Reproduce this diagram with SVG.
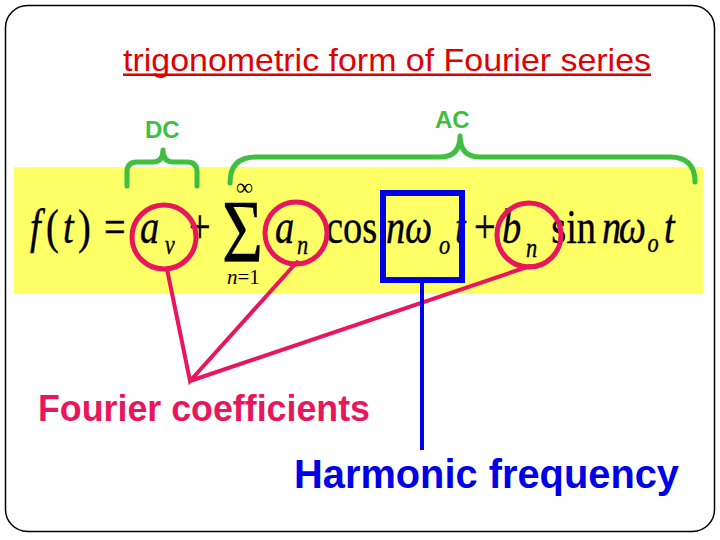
<svg xmlns="http://www.w3.org/2000/svg" width="720" height="540" viewBox="0 0 720 540">
<style>
.eq{font-family:"Liberation Serif","Times New Roman",serif;fill:#000;stroke:#000;stroke-width:0.4}
.m{font-size:48px}
.s{font-size:28px}
.it{font-style:italic}
.lab{font-family:"Liberation Sans",Arial,sans-serif}
.brace{fill:none;stroke:#3fbf3f;stroke-width:5;stroke-linejoin:round;stroke-linecap:round}
.ring{fill:none;stroke:#e8175d;stroke-width:5}
.pink{stroke:#e8175d;stroke-width:4;fill:none;stroke-linecap:round}
</style>
<rect x="5.5" y="5.5" width="709" height="526" rx="22" fill="#fff" stroke="#000" stroke-width="1.5"/>
<rect id="band" x="14" y="167" width="689" height="127" fill="#ffff66"/>

<g id="title">
<text class="lab" x="123" y="71" style="font-size:32px" fill="#e00000" textLength="528" lengthAdjust="spacingAndGlyphs">trigonometric form of Fourier series</text>
<rect x="123" y="73.5" width="528" height="2.5" fill="#e00000"/>
</g>

<g id="equation">
<g transform="scale(0.8 1)">
<text class="eq m it" x="37.5" y="243">f</text>
<text class="eq m" x="57.5" y="243">(</text>
<text class="eq m it" x="78.75" y="243">t</text>
<text class="eq m" x="97.5" y="243">)</text>
<text class="eq m" x="130" y="243">=</text>
<text class="eq m it" x="175" y="243">a</text>
<text class="eq s it" x="206" y="254">v</text>
<text class="eq m" x="236.25" y="243">+</text>
<text class="eq m it" x="343.75" y="243">a</text>
<text class="eq s it" x="371.25" y="254">n</text>
<text class="eq m" x="407.5" y="243">cos</text>
<text class="eq m it" x="482.5" y="243">n</text>
<text class="eq m it" x="506.25" y="243">ω</text>
<text class="eq s it" x="548.75" y="254">o</text>
<text class="eq m it" x="568.75" y="243">t</text>
<text class="eq m" x="592.5" y="243">+</text>
<text class="eq m it" x="627.5" y="243">b</text>
<text class="eq s it" x="657.5" y="257">n</text>
<text class="eq m" x="689" y="243">sin</text>
<text class="eq m it" x="752.5" y="243">n</text>
<text class="eq m it" x="773.5" y="243">ω</text>
<text class="eq s it" x="809.5" y="252">o</text>
<text class="eq m it" x="830" y="243">t</text>
</g>
<text class="eq" transform="translate(222 261) scale(0.8 1)" x="0" y="0" style="font-size:88px">Σ</text>
<text class="eq" x="236" y="195" style="font-size:24px;stroke-width:0">∞</text>
<text class="eq" x="227" y="284" style="font-size:21px;stroke-width:0"><tspan font-style="italic">n</tspan>=1</text>
</g>

<g id="dc">
<text class="lab" x="145" y="138" style="font-size:24px;font-weight:bold" fill="#3fbf3f">DC</text>
</g>
<g id="ac">
<text class="lab" x="435" y="128" style="font-size:24px;font-weight:bold" fill="#3fbf3f">AC</text>
</g>

<g id="av-circle"><circle class="ring" cx="164" cy="237" r="32"/></g>
<g id="an-circle"><circle class="ring" cx="296" cy="233" r="31"/></g>
<g id="bn-circle"><circle class="ring" cx="529" cy="235" r="32"/></g>
<g id="freq-box"><rect x="383" y="193" width="79" height="87" fill="none" stroke="#0000e6" stroke-width="6"/></g>

<g id="fourier-coefficients">
<text class="lab" x="38" y="421" style="font-size:36px;font-weight:bold" fill="#e8175d" textLength="332" lengthAdjust="spacingAndGlyphs">Fourier coefficients</text>
</g>
<g id="harmonic-frequency">
<text class="lab" x="294" y="488" style="font-size:40px;font-weight:bold" fill="#0000e6" textLength="385" lengthAdjust="spacingAndGlyphs">Harmonic frequency</text>
</g>

<g id="connectors">
<path class="brace" d="M127,186 L127,172 Q127,162 137,162 L153,162 Q163,162 163,150 Q163,162 173,162 L187,162 Q197,162 197,172 L197,186"/>
<path class="brace" d="M230,183 Q230,157 256,157 L440,157 Q460,157 460,136 Q460,157 480,157 L670,157 Q695,157 695,182"/>
<path class="pink" d="M167,269 L190,381 L297,262 M190,381 L530,266"/>
<line x1="422" y1="283" x2="422" y2="450" stroke="#0000e6" stroke-width="4"/>
</g>
</svg>
